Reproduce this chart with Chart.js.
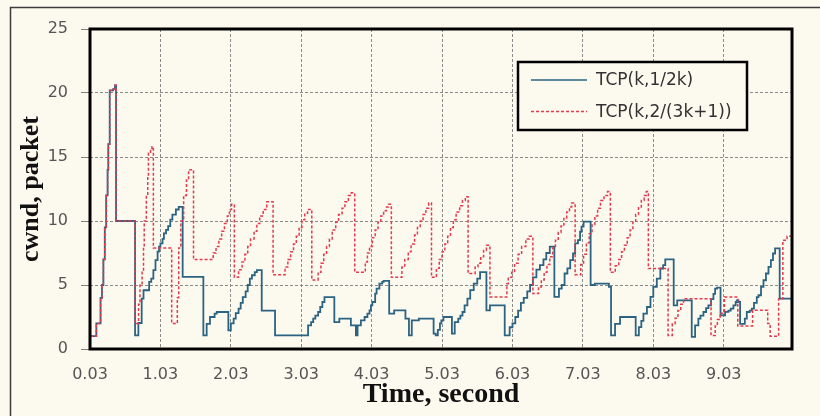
<!DOCTYPE html>
<html>
<head>
<meta charset="utf-8">
<script src="https://cdn.jsdelivr.net/npm/chart.js@4.4.1/dist/chart.umd.min.js"></script>
<style>
html,body{margin:0;padding:0;background:#fcf9ef;}
#wrap{position:relative;width:820px;height:416px;}
canvas{display:block;}
</style>
</head>
<body>
<div id="wrap"><canvas id="c" width="820" height="416"></canvas></div>
<script>
// ---- data ----
const seriesLabels = ['TCP(k,1/2k)', 'TCP(k,2/(3k+1))'];
const xTickValues = [0.03, 1.03, 2.03, 3.03, 4.03, 5.03, 6.03, 7.03, 8.03, 9.03];
const xTickLabels = ['0.03', '1.03', '2.03', '3.03', '4.03', '5.03', '6.03', '7.03', '8.03', '9.03'];
const yTickValues = [0, 5, 10, 15, 20, 25];

// [time (s), cwnd (packets)] — value changes to cwnd at that time
const tcpHalfK = [
  [0.03,1],[0.12,2],[0.18,4],[0.20,5],[0.22,7],[0.24,9.5],[0.26,12],[0.28,14],[0.29,16],[0.31,20.2],[0.36,20.3],[0.385,20.6],[0.40,10],
  [0.67,1.06],[0.717,2.03],[0.764,3.93],[0.79,4.59],[0.87,5.24],[0.90,5.5],[0.93,6.16],[0.96,6.94],[0.99,7.6],[1.01,8.0],[1.03,8.25],
  [1.06,8.6],[1.08,9.03],[1.11,9.3],[1.14,9.6],[1.17,10.1],[1.20,10.5],[1.25,10.9],[1.29,11.1],[1.346,5.63],[1.64,1.06],[1.687,1.97],
  [1.734,2.5],[1.80,2.76],[1.83,2.89],[1.995,1.45],[2.03,2.0],[2.07,2.37],[2.10,2.8],[2.14,3.15],[2.17,3.6],[2.20,4.06],[2.24,4.5],
  [2.27,5.0],[2.30,5.5],[2.33,5.76],[2.37,6.0],[2.40,6.16],[2.469,3.0],[2.658,1.06],
  [3.127,1.84],[3.17,2.1],[3.20,2.37],[3.23,2.6],[3.27,2.89],[3.30,3.28],[3.33,3.67],[3.36,4.06],[3.50,2.1],[3.571,2.37],[3.735,1.84],
  [3.806,1.06],[3.83,1.84],[3.877,2.24],[3.93,2.5],[3.97,2.76],[4.0,3.02],[4.02,3.41],[4.04,3.67],[4.08,4.33],[4.10,4.72],[4.14,5.1],
  [4.18,5.24],[4.20,5.32],[4.279,2.76],[4.35,3.02],[4.51,2.37],[4.56,1.06],[4.60,2.24],[4.70,2.37],[4.91,1.2],[4.94,1.06],[4.97,1.5],
  [5.0,2.0],[5.02,2.24],[5.05,2.5],[5.17,1.2],[5.21,2.1],[5.26,2.37],[5.29,2.6],[5.32,2.89],[5.35,3.41],[5.39,3.93],[5.43,4.6],
  [5.48,5.1],[5.53,5.5],[5.57,6.0],[5.66,3.02],[5.71,3.41],[5.92,1.06],[5.99,1.7],[6.03,2.0],[6.07,2.5],[6.11,3.0],[6.15,3.6],
  [6.19,4.0],[6.24,4.5],[6.28,5.0],[6.32,5.6],[6.37,6.2],[6.42,6.55],[6.47,7.0],[6.51,7.5],[6.56,8.0],[6.625,4.07],[6.69,4.72],
  [6.73,5.0],[6.77,5.9],[6.81,6.3],[6.85,6.94],[6.89,7.46],[6.92,8.25],[6.96,8.5],[6.99,9.16],[7.01,9.56],[7.04,9.95],[7.14,5.0],
  [7.20,5.11],[7.40,4.85],[7.43,1.06],[7.487,1.97],[7.558,2.5],[7.78,1.06],[7.825,1.71],[7.86,2.2],[7.89,2.76],[7.94,3.28],[7.99,4.07],
  [8.03,4.85],[8.08,5.5],[8.13,6.29],[8.17,6.55],[8.20,7.0],[8.32,3.41],[8.37,3.8],[8.576,0.95],[8.624,1.84],[8.67,2.37],[8.70,2.6],
  [8.742,2.89],[8.78,3.2],[8.813,3.41],[8.85,3.9],[8.884,4.3],[8.908,4.72],[8.935,4.8],[8.985,2.63],[9.05,2.9],[9.097,3.0],[9.13,3.15],
  [9.168,3.41],[9.20,3.67],[9.216,3.8],[9.24,3.67],[9.263,1.97],[9.33,2.37],[9.358,2.89],[9.40,3.0],[9.429,3.15],[9.46,3.6],[9.50,4.06],
  [9.524,4.2],[9.56,4.85],[9.595,5.37],[9.63,5.9],[9.666,6.42],[9.70,6.94],[9.73,7.46],[9.76,7.86],[9.825,3.93],[10.0,3.93]
];

const tcpTwoOver3k1 = [
  [0.03,1],[0.12,2],[0.18,4],[0.20,5],[0.22,7],[0.24,9.5],[0.26,12],[0.28,14],[0.29,16],[0.31,20.2],[0.36,20.3],[0.385,20.6],[0.40,10],
  [0.67,2],[0.72,3.5],[0.74,5],[0.77,6],[0.79,8],[0.80,10],[0.83,12],[0.85,13.5],[0.86,15.3],[0.89,15.5],[0.91,15.8],[0.93,7.9],
  [1.19,2],[1.27,4],[1.29,7.9],[1.32,10],[1.36,12],[1.40,13.2],[1.43,14],[1.50,7],[1.78,7.5],[1.82,8.0],[1.86,8.6],[1.90,9.2],
  [1.94,9.8],[1.98,10.4],[2.01,10.9],[2.04,11.3],[2.08,5.6],[2.14,6.2],[2.19,6.8],[2.23,7.4],[2.27,8.0],[2.31,8.6],[2.36,9.2],
  [2.40,9.8],[2.44,10.4],[2.49,10.9],[2.54,11.5],[2.63,5.8],[2.80,6.4],[2.84,7.0],[2.88,7.6],[2.92,8.2],[2.96,8.8],[3.00,9.5],
  [3.04,10.1],[3.08,10.6],[3.12,10.9],[3.18,5.4],[3.27,6.0],[3.31,6.7],[3.35,7.4],[3.39,8.0],[3.43,8.6],[3.47,9.3],[3.52,9.9],
  [3.56,10.5],[3.61,11.0],[3.65,11.5],[3.70,12.0],[3.74,12.2],[3.79,6.0],[3.94,6.8],[3.97,7.5],[4.00,8.0],[4.04,8.7],[4.08,9.3],
  [4.12,9.9],[4.16,10.4],[4.20,10.8],[4.24,11.1],[4.27,11.3],[4.31,5.6],[4.46,6.4],[4.50,7.0],[4.55,7.6],[4.59,8.2],[4.64,8.9],
  [4.68,9.5],[4.72,10.0],[4.76,10.5],[4.80,11.0],[4.84,11.4],[4.88,5.6],[4.95,6.3],[4.99,7.0],[5.03,7.6],[5.07,8.2],[5.11,8.8],
  [5.15,9.5],[5.19,10.1],[5.23,10.7],[5.28,11.2],[5.32,11.6],[5.36,11.9],[5.40,5.9],[5.50,6.4],[5.54,6.7],[5.58,7.2],[5.62,7.7],
  [5.66,8.1],[5.71,4.07],[5.95,5.1],[5.97,5.6],[6.02,6.0],[6.06,6.7],[6.11,7.4],[6.16,8.0],[6.22,8.6],[6.27,8.8],[6.32,4.33],
  [6.40,4.85],[6.44,5.4],[6.48,6.0],[6.52,6.6],[6.56,7.2],[6.60,7.9],[6.64,8.5],[6.68,9.1],[6.72,9.6],[6.76,10.2],[6.80,10.7],
  [6.84,11.1],[6.87,11.4],[6.92,5.8],[7.00,6.6],[7.04,7.4],[7.08,8.3],[7.12,9.0],[7.16,9.7],[7.20,10.4],[7.24,11.0],[7.28,11.6],
  [7.33,12.0],[7.38,12.3],[7.42,6.0],[7.49,6.5],[7.54,7.0],[7.58,7.6],[7.62,8.1],[7.66,8.7],[7.70,9.3],[7.74,9.9],[7.78,10.5],
  [7.82,11.1],[7.86,11.6],[7.90,12.0],[7.93,12.3],[7.96,6.28],[8.24,1.06],[8.30,1.97],[8.34,2.4],[8.38,3.0],[8.42,3.5],[8.46,3.93],
  [8.85,1.06],[8.91,1.8],[8.94,2.3],[8.98,2.8],[9.04,4.06],[9.23,1.8],[9.44,3.02],[9.655,2.0],[9.69,1.0],[9.81,3.93],[9.87,8.5],
  [9.93,8.8],[10.0,9.0]
];

// ---- rendering ----
const BG = '#fcf9ef';
const toXY = arr => arr.map(p => ({ x: p[0], y: p[1] }));

const backgroundPlugin = {
  id: 'pageBackground',
  beforeDraw(chart) {
    const c = chart.ctx;
    c.save();
    c.fillStyle = BG;
    c.fillRect(0, 0, chart.width, chart.height);
    c.strokeStyle = '#3c3c3c';
    c.lineWidth = 1.5;
    c.strokeRect(10.5, 7.5, chart.width + 40, chart.height + 40);
    c.restore();
  }
};

const framePlugin = {
  id: 'plotFrame',
  afterDatasetsDraw(chart) {
    const a = chart.chartArea, c = chart.ctx;
    c.save();
    c.strokeStyle = '#000';
    c.lineWidth = 3;
    c.strokeRect(a.left, a.top, a.right - a.left, a.bottom - a.top);
    c.restore();
  }
};

const boxLegendPlugin = {
  id: 'boxLegend',
  afterDraw(chart) {
    const a = chart.chartArea, c = chart.ctx;
    const x0 = a.left + 428, y0 = a.top + 33, w = 229, h = 68;
    c.save();
    c.fillStyle = BG;
    c.fillRect(x0, y0, w, h);
    c.strokeStyle = '#000';
    c.lineWidth = 2.5;
    c.strokeRect(x0, y0, w, h);
    chart.data.datasets.forEach((ds, i) => {
      const y = y0 + 18 + i * 31.5;
      c.strokeStyle = ds.borderColor;
      c.lineWidth = 1.5;
      c.setLineDash(ds.borderDash || []);
      c.beginPath();
      c.moveTo(x0 + 13, y);
      c.lineTo(x0 + 69, y);
      c.stroke();
      c.setLineDash([]);
      c.fillStyle = '#333';
      c.font = '17px "DejaVu Sans"';
      c.textBaseline = 'middle';
      c.textAlign = 'left';
      c.fillText(ds.label, x0 + 78, y + 1);
    });
    c.restore();
  }
};

new Chart(document.getElementById('c'), {
  type: 'line',
  data: {
    datasets: [
      { label: seriesLabels[0], data: toXY(tcpHalfK), borderColor: '#2b6382', borderWidth: 1.8,
        stepped: true, pointRadius: 0, fill: false, order: 1 },
      { label: seriesLabels[1], data: toXY(tcpTwoOver3k1), borderColor: '#e23b4e', borderWidth: 1.5,
        borderDash: [3, 2], stepped: true, pointRadius: 0, fill: false, order: 0 }
    ]
  },
  options: {
    responsive: false,
    animation: false,
    events: [],
    layout: { padding: { left: 0, right: 28, top: 29, bottom: 0 } },
    plugins: { legend: { display: false }, tooltip: { enabled: false } },
    scales: {
      x: {
        type: 'linear', min: 0.03, max: 10.0,
        afterBuildTicks: s => { s.ticks = xTickValues.map(v => ({ value: v })); },
        afterFit: s => { s.height = 67; },
        ticks: { callback: (v, i) => xTickLabels[i], color: '#555', font: { family: 'DejaVu Sans', size: 16 },
                 padding: 16, maxRotation: 0, autoSkip: false },
        grid: { color: '#8a8a8a', lineWidth: 1, drawTicks: false },
        border: { display: false, dash: [3, 2] },
        title: { display: true, text: 'Time, second', color: '#111',
                 font: { family: 'Liberation Serif', size: 28, weight: 'bold' }, padding: { top: 0, bottom: 4 } }
      },
      y: {
        min: 0, max: 25,
        afterBuildTicks: s => { s.ticks = yTickValues.map(v => ({ value: v })); },
        afterFit: s => { s.width = 90; },
        ticks: { color: '#555', font: { family: 'DejaVu Sans', size: 16 }, padding: 13 },
        grid: { color: '#8a8a8a', lineWidth: 1, tickLength: 9, tickColor: '#808080', tickBorderDash: [], tickWidth: 1 },
        border: { display: false, dash: [3, 2] },
        title: { display: true, text: 'cwnd, packet', color: '#111',
                 font: { family: 'Liberation Serif', size: 26, weight: 'bold' }, padding: { top: 16, bottom: 0 } }
      }
    }
  },
  plugins: [backgroundPlugin, framePlugin, boxLegendPlugin]
});
</script>
</body>
</html>
